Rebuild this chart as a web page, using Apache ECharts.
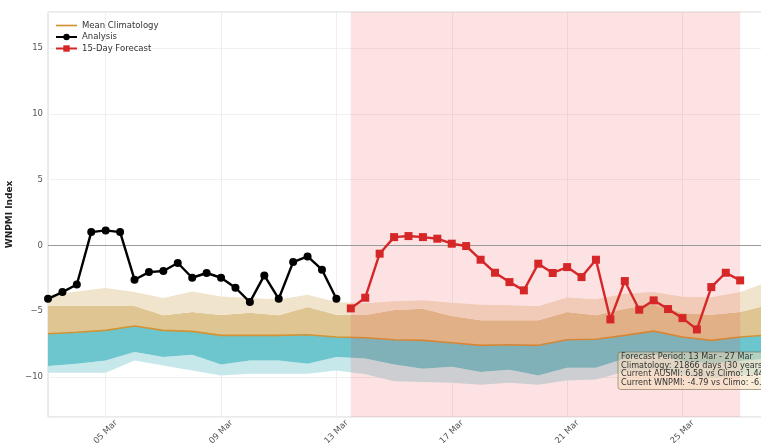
<!DOCTYPE html>
<html>
<head>
<meta charset="utf-8">
<script src="https://cdn.jsdelivr.net/npm/echarts@6/dist/echarts.min.js"></script>
<style>html,body{margin:0;padding:0;background:#fff;}#chart{width:761px;height:443px;}</style>
</head>
<body>
<div id="chart"></div>
<script>
// ---- Data ----
const dailyDates = ['03 Mar','04 Mar','05 Mar','06 Mar','07 Mar','08 Mar','09 Mar','10 Mar','11 Mar','12 Mar','13 Mar','14 Mar','15 Mar','16 Mar','17 Mar','18 Mar','19 Mar','20 Mar','21 Mar','22 Mar','23 Mar','24 Mar','25 Mar','26 Mar','27 Mar','28 Mar'];
const xTickLabels = ['05 Mar','09 Mar','13 Mar','17 Mar','21 Mar','25 Mar'];
const yTickValues = [-10, -5, 0, 5, 10, 15];

// 12-hourly analysis, 03 Mar 00:00 .. 13 Mar 00:00
const analysisValues = [-4.06,-3.55,-2.97,1.01,1.14,1.01,-2.61,-2.03,-1.95,-1.34,-2.46,-2.10,-2.46,-3.22,-4.31,-2.28,-4.06,-1.27,-0.84,-1.85,-4.06];
// 12-hourly forecast, 13 Mar 12:00 .. 27 Mar 00:00
const forecastValues = [-4.79,-3.98,-0.63,0.63,0.71,0.63,0.51,0.13,-0.05,-1.09,-2.08,-2.79,-3.42,-1.39,-2.10,-1.65,-2.41,-1.09,-5.63,-2.71,-4.89,-4.18,-4.84,-5.53,-6.39,-3.17,-2.08,-2.66];

// daily climatology, 03 Mar .. 28 Mar
const climP90  = [-3.80,-3.50,-3.24,-3.55,-4.00,-3.50,-3.88,-4.00,-4.11,-3.75,-4.31,-4.40,-4.25,-4.18,-4.36,-4.51,-4.56,-4.62,-3.96,-4.10,-3.68,-3.55,-3.90,-3.95,-3.55,-2.75];
const climP75  = [-4.61,-4.61,-4.61,-4.61,-5.32,-5.07,-5.30,-5.12,-5.32,-4.69,-5.27,-5.30,-4.92,-4.82,-5.36,-5.70,-5.70,-5.70,-5.07,-5.31,-4.82,-4.47,-5.15,-5.27,-5.07,-4.50];
const climMean = [-6.72,-6.60,-6.46,-6.13,-6.46,-6.54,-6.84,-6.84,-6.84,-6.79,-6.97,-7.02,-7.18,-7.22,-7.40,-7.60,-7.55,-7.60,-7.18,-7.14,-6.84,-6.52,-6.97,-7.22,-6.97,-6.80];
const climP25  = [-9.18,-9.00,-8.75,-8.11,-8.49,-8.32,-9.05,-8.75,-8.75,-9.00,-8.49,-8.60,-9.05,-9.38,-9.22,-9.63,-9.45,-9.89,-9.30,-9.30,-8.60,-8.30,-8.80,-9.00,-8.80,-8.60];
const climP10  = [-9.68,-9.68,-9.68,-8.75,-9.13,-9.51,-9.89,-9.76,-9.76,-9.76,-9.51,-9.80,-10.34,-10.39,-10.44,-10.59,-10.44,-10.59,-10.27,-10.20,-9.60,-9.50,-9.90,-10.10,-9.90,-9.70];

const annotationLines = [
  'Forecast Period: 13 Mar - 27 Mar',
  'Climatology: 21866 days (30 years)',
  'Current AUSMI: 6.58 vs Climo: 1.44',
  'Current WNPMI: -4.79 vs Climo: -6.97'
];

// ---- Build ----
const halfDayCats = [];
dailyDates.forEach((d, i) => {
  halfDayCats.push(d + ' 00:00');
  if (i < dailyDates.length - 1) halfDayCats.push(d + ' 12:00');
});
const forecastStart = analysisValues.length; // index of 13 Mar 12:00
const analysisData = analysisValues.map((v, i) => [i, v]);
const forecastData = forecastValues.map((v, i) => [forecastStart + i, v]);

const diff = (a, b) => a.map((v, i) => +(v - b[i]).toFixed(3));
const FONT = 'DejaVu Sans';
const isTick = (idx, val) => val.endsWith('00:00') && xTickLabels.includes(val.slice(0, 6));

function band(data, color) {
  return {
    type: 'line', xAxisIndex: 1, stack: 'clim', stackStrategy: 'all',
    data: data, symbol: 'none', silent: true, z: 1,
    lineStyle: { width: 0, opacity: 0 },
    areaStyle: color ? { color: color, opacity: 1 } : undefined
  };
}

const chart = echarts.init(document.getElementById('chart'), null, { renderer: 'canvas' });
chart.setOption({
  animation: false,
  textStyle: { fontFamily: FONT },
  grid: { left: 48, top: 12, bottom: 26, right: -8, containLabel: false, outerBoundsMode: 'none',
          show: true, borderColor: '#d6d6d6', borderWidth: 1, backgroundColor: 'transparent' },
  legend: {
    data: [
      { name: 'Mean Climatology', icon: 'path://M0,0L20,0L20,1.6L0,1.6Z' },
      'Analysis', '15-Day Forecast'
    ],
    orient: 'vertical', left: 50, top: 16, itemGap: 2.5, itemWidth: 21, itemHeight: 8,
    textStyle: { fontSize: 8.5, color: '#333', fontFamily: FONT }
  },
  xAxis: [{
    type: 'category', data: halfDayCats, boundaryGap: false,
    axisLine: { show: false }, axisTick: { show: false },
    axisLabel: {
      interval: isTick, rotate: 45, align: 'center', verticalAlign: 'middle', margin: 15,
      fontSize: 8.5, color: '#555', fontFamily: FONT,
      formatter: v => v.slice(0, 6)
    },
    splitLine: { show: true, interval: isTick, lineStyle: { color: '#eeeeee', width: 1 } }
  }, {
    type: 'category', data: dailyDates, boundaryGap: false, show: false
  }],
  yAxis: {
    type: 'value', min: -13.05, max: 17.75, splitNumber: 5,
    name: 'WNPMI Index', nameLocation: 'middle', nameGap: 30,
    nameTextStyle: { fontSize: 9, fontWeight: 'bold', color: '#222', fontFamily: FONT },
    axisLine: { show: false }, axisTick: { show: false },
    axisLabel: {
      showMinLabel: false, showMaxLabel: false, fontSize: 8.5, color: '#555', margin: 5, fontFamily: FONT,
      formatter: v => yTickValues.includes(v) ? (v < 0 ? '\u2212' + Math.abs(v) : String(v)) : ''
    },
    splitLine: { show: true, lineStyle: { color: '#f0f0f0', width: 1 } }
  },
  series: [
    band(climP10, null),
    band(diff(climP25, climP10), '#c7e8eb'),
    band(diff(climMean, climP25), '#6dc6cd'),
    band(diff(climP75, climMean), '#dfc592'),
    band(diff(climP90, climP75), '#f1e4cd'),
    {
      name: 'Mean Climatology', type: 'line', xAxisIndex: 1, data: climMean, symbol: 'none', z: 1,
      lineStyle: { color: '#d09436', width: 1.6 }, itemStyle: { color: '#d09436' }
    },
    {
      name: 'Analysis', type: 'line', data: analysisData, z: 4,
      symbol: 'circle', symbolSize: 8,
      lineStyle: { color: '#000', width: 2.4 }, itemStyle: { color: '#000' },
      markLine: {
        silent: true, symbol: 'none', z: 3, label: { show: false },
        lineStyle: { color: '#9a9a9a', width: 1, type: 'solid' },
        data: [{ yAxis: 0 }]
      }
    },
    {
      name: '15-Day Forecast', type: 'line', data: forecastData, z: 5,
      symbol: 'rect', symbolSize: 8,
      lineStyle: { color: '#d62728', width: 2.4 }, itemStyle: { color: '#d62728' },
      markArea: {
        silent: true, z: 2,
        itemStyle: { color: 'rgba(240,60,70,0.15)' },
        data: [[{ xAxis: halfDayCats[forecastStart] }, { xAxis: halfDayCats[forecastStart + forecastValues.length - 1] }]]
      }
    }
  ],
  graphic: {
    elements: [
      { type: 'rect', x: 618, y: 352, z: 100, shape: { x: 0, y: 0, width: 175, height: 37.5, r: 3 },
        style: { fill: 'rgba(245,222,179,0.5)', stroke: 'rgba(110,95,70,0.55)', lineWidth: 1 } }
    ].concat(annotationLines.map((t, i) => ({
      type: 'text', x: 621, y: 357 + i * 8.6, z: 101,
      style: { text: t, fontSize: 8.1, fontFamily: FONT, fill: '#333', verticalAlign: 'middle', align: 'left' }
    })))
  }
});
</script>
</body>
</html>
